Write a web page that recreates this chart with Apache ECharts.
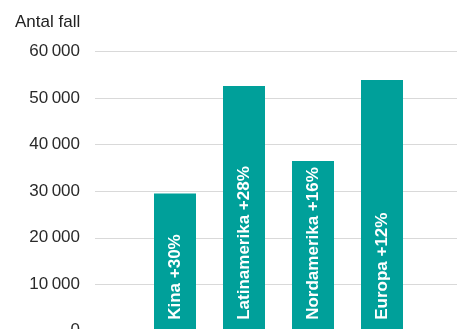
<!DOCTYPE html>
<html>
<head>
<meta charset="utf-8">
<script src="https://cdn.jsdelivr.net/npm/echarts@6/dist/echarts.min.js"></script>
<style>
  html, body { margin: 0; padding: 0; background: #fff; }
  #chart { width: 457px; height: 329px; }
</style>
</head>
<body>
<div id="chart"></div>
<script>
// regioner och antal fall
const regions = ['Kina', 'Latinamerika', 'Nordamerika', 'Europa'];
const cases = [29500, 52600, 36500, 53900];
const growth = ['+30%', '+28%', '+16%', '+12%'];
const yTicks = [0, 10000, 20000, 30000, 40000, 50000, 60000];

const teal = '#00a09a';
const font = 'Liberation Sans, Arial, sans-serif';

function fmt(v) {
    let s = String(v);
    if (s.length > 3) s = s.slice(0, s.length - 3) + '\u2009' + s.slice(-3);
    return s;
}

const myChart = echarts.init(document.getElementById('chart'));
const option = {
    animation: false,
    title: {
        text: 'Antal fall',
        left: 10,
        top: 9,
        textStyle: { fontFamily: font, fontSize: 17, fontWeight: 'normal', color: '#222' }
    },
    grid: [
        { left: 95, right: 0, top: 51.7, height: 279.1, outerBoundsMode: 'none' },
        { left: 140.5, width: 276, top: 51.7, height: 279.1, outerBoundsMode: 'none' }
    ],
    xAxis: [
        { gridIndex: 0, type: 'category', data: regions, show: false },
        { gridIndex: 1, type: 'category', data: regions, show: false }
    ],
    yAxis: [
        {
            gridIndex: 0,
            type: 'value',
            min: yTicks[0],
            max: yTicks[yTicks.length - 1],
            interval: 10000,
            axisLine: { show: false },
            axisTick: { show: false },
            axisLabel: {
                margin: 15,
                fontFamily: font,
                fontSize: 17,
                color: '#2a2a2a',
                formatter: fmt
            },
            splitLine: { lineStyle: { color: '#d9d9d9', width: 1 } }
        },
        {
            gridIndex: 1,
            type: 'value',
            min: yTicks[0],
            max: yTicks[yTicks.length - 1],
            show: false,
            splitLine: { show: false }
        }
    ],
    series: [{
        type: 'bar',
        xAxisIndex: 1,
        yAxisIndex: 1,
        data: cases,
        barWidth: 42,
        itemStyle: { color: teal },
        label: {
            show: true,
            position: 'insideBottom',
            rotate: 90,
            align: 'left',
            verticalAlign: 'middle',
            distance: 11,
            color: '#fff',
            fontFamily: font,
            fontSize: 17,
            fontWeight: 'bold',
            formatter: function (p) {
                return regions[p.dataIndex] + ' ' + growth[p.dataIndex];
            }
        }
    }]
};
myChart.setOption(option);
</script>
</body>
</html>
